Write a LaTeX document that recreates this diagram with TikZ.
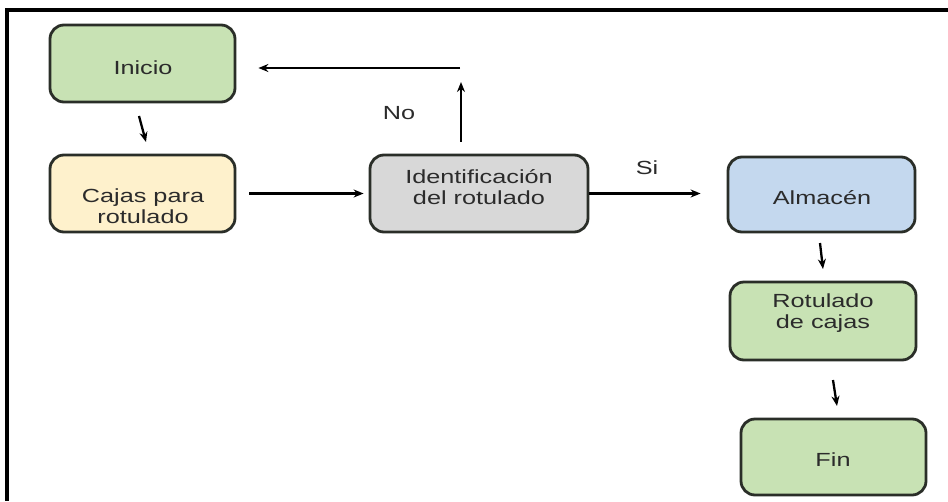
\documentclass[tikz,border=0pt]{standalone}
\usepackage{fontspec}
\setmainfont{Liberation Sans}[FakeStretch=1.33]
\usetikzlibrary{arrows.meta}
\definecolor{gfill}{HTML}{C8E2B4}
\definecolor{yfill}{HTML}{FEF1CC}
\definecolor{grfill}{HTML}{D8D8D8}
\definecolor{bfill}{HTML}{C4D8EE}
\definecolor{edgec}{HTML}{2A2E28}
\definecolor{txt}{HTML}{2B2B2B}
\begin{document}
\begin{tikzpicture}[x=1pt,y=-1pt,
  box/.style={draw=edgec, line width=2.8pt, rounded corners=14pt, inner sep=0pt},
  lbl/.style={text=txt, font=\fontsize{19}{21}\selectfont, align=center, inner sep=0pt},
  arr/.style={-{Stealth[length=10pt,width=8pt]}, line width=2.3pt, black}]
\useasboundingbox (0,0) rectangle (948,501);
\fill[white] (0,0) rectangle (948,501);
\draw[line width=4pt] (948,10) -- (7,10) -- (7,501);

% boxes
\node[box, fill=gfill, minimum width=185pt, minimum height=77pt] (inicio) at (142.5,63.5) {};
\node[box, fill=yfill, minimum width=185pt, minimum height=77pt] (cajas) at (142.5,193.5) {};
\node[box, fill=grfill, minimum width=218pt, minimum height=77pt] (ident) at (479,193.5) {};
\node[box, fill=bfill, minimum width=187pt, minimum height=75pt] (alm) at (821.5,194.5) {};
\node[box, fill=gfill, minimum width=186pt, minimum height=78pt] (rot) at (823,321) {};
\node[box, fill=gfill, minimum width=185pt, minimum height=76pt] (fin) at (833.5,457) {};

% texts
\node[lbl] (tinicio) at (143,68) {Inicio};
\node[lbl] (tcajas) at (143,206) {Cajas para\\rotulado};
\node[lbl] (tident) at (479,187) {Identificación\\del rotulado};
\node[lbl] (talm) at (822,198) {Almacén};
\node[lbl] (trot) at (823,313) {Rotulado\\de cajas};
\node[lbl] (tfin) at (833,460) {Fin};
\node[lbl] (tno) at (399,113) {No};
\node[lbl] (tsi) at (647,168) {Si};

% connectors
\coordinate (a1s) at (139,116);
\coordinate (a1e) at (146,142);
\draw[arr] (a1s) -- (a1e);

\draw[arr, shorten <=13pt, shorten >=5pt] (cajas.east) -- (ident.west);

\coordinate (notop) at (461,82);
\draw[arr, shorten <=12pt] (ident.north -| notop) -- (notop);
\coordinate (backs) at (460,68);
\draw[arr, shorten >=22pt] (backs) -- (inicio.east |- backs);

\draw[arr, shorten >=26pt] (ident.east) -- (alm.west |- ident.east);

\coordinate (a2s) at (820,243);
\coordinate (a2e) at (823,269);
\draw[arr] (a2s) -- (a2e);
\coordinate (a3s) at (833,380);
\coordinate (a3e) at (837,406);
\draw[arr] (a3s) -- (a3e);
\end{tikzpicture}
\end{document}
